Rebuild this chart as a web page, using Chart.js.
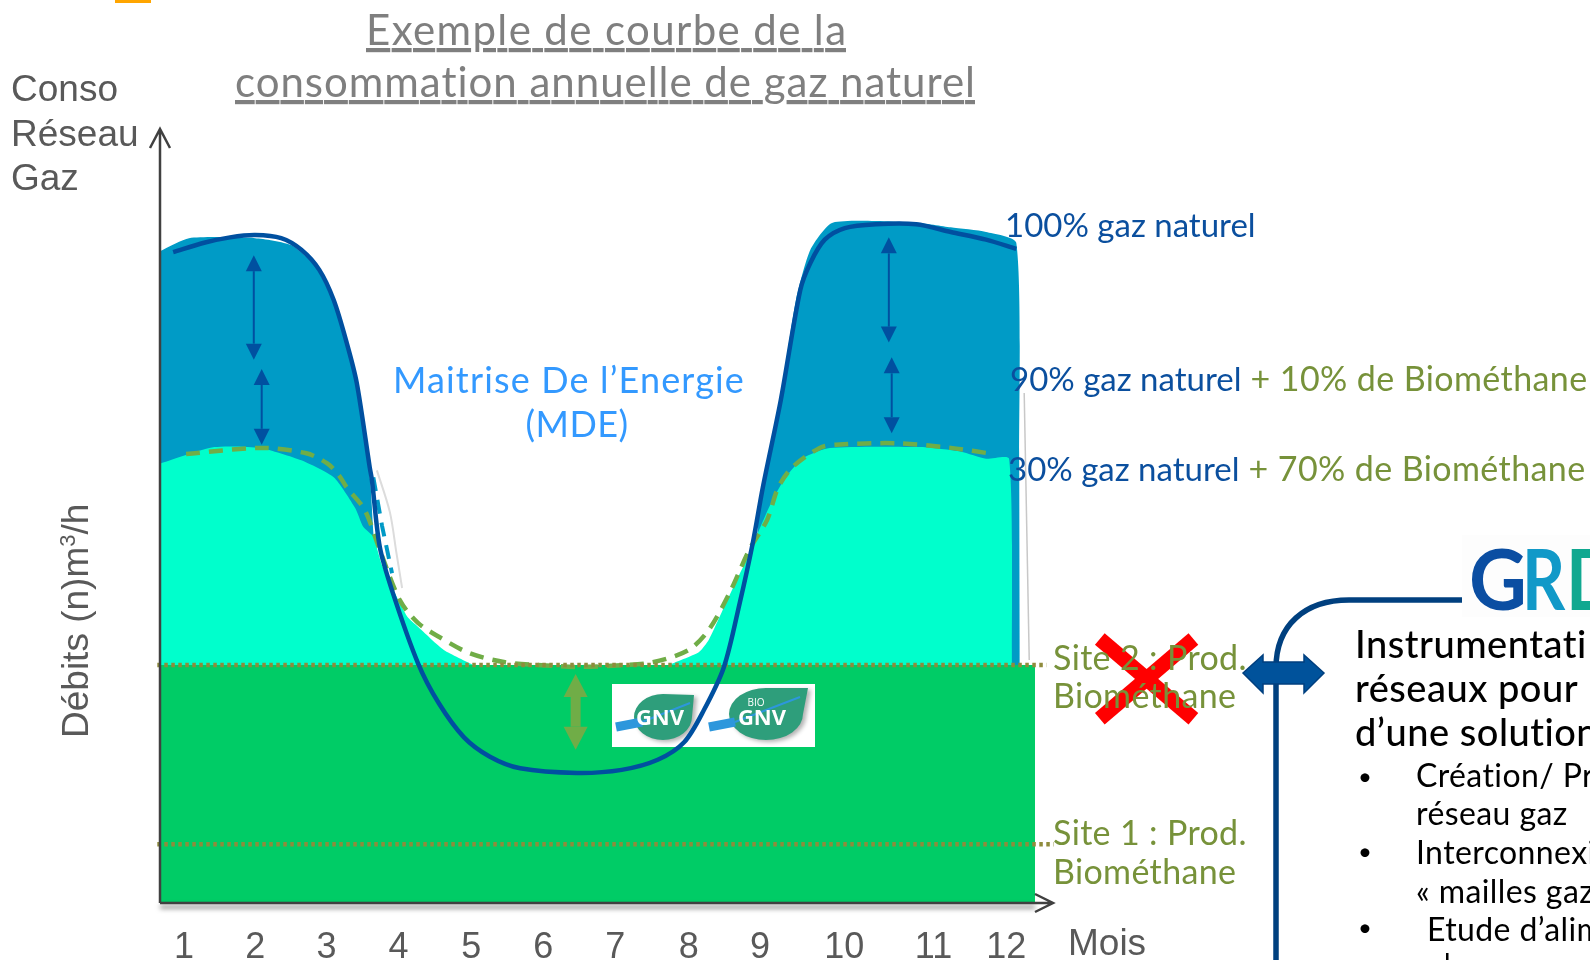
<!DOCTYPE html>
<html lang="fr">
<head>
<meta charset="utf-8">
<title>Courbe de consommation de gaz naturel</title>
<script src="https://cdn.jsdelivr.net/npm/chart.js@4"></script>
<style>
    html, body { margin: 0; padding: 0; background: #fff; width: 1590px; height: 960px; overflow: hidden; }
    #wrap { position: relative; width: 1590px; height: 960px; overflow: hidden; }
    #chart, #overlay { position: absolute; left: 0; top: 0; }
    #overlay { font-variant-ligatures: none; }
    .lato { font-family: Lato, "Open Sans", sans-serif; }
    .arial { font-family: "Liberation Sans", Arial, sans-serif; fill: #595959; font-size: 37px; }
    .blue { fill: #0b4f9e; font-size: 33px; }
    .olive { fill: #77923a; font-size: 34px; letter-spacing: 0.4px; }
    .site { fill: #77923a; font-size: 34px; letter-spacing: 0.35px; }
    .panel { fill: #000; font-size: 32px; letter-spacing: 0.4px; }
    .bullet { fill: #000; font-size: 24px; }
    .panelHead { fill: #000; font-size: 38px; font-weight: 500; letter-spacing: 0.5px; }
</style>
</head>
<body>
<div id="wrap">
    <canvas id="chart" width="1590" height="960"></canvas>
    <svg id="overlay" width="1590" height="960" xmlns="http://www.w3.org/2000/svg">
        <rect x="115" y="0" width="36" height="3" fill="#ffa500"/>

        <g class="lato" font-size="42" fill="#7f7f7f" text-decoration="underline">
            <text x="366" y="45" textLength="480">Exemple de courbe de la</text>
            <text x="235" y="97" textLength="740">consommation annuelle de gaz naturel</text>
        </g>

        <g class="arial">
            <text x="11" y="101">Conso</text>
            <text x="11" y="146">Réseau</text>
            <text x="11" y="190">Gaz</text>
            <text x="1068" y="955">Mois</text>
            <text transform="translate(88,738) rotate(-90)">Débits (n)m<tspan font-size="22" dy="-13">3</tspan><tspan dy="13">/h</tspan></text>
        </g>

        <g class="lato">
            <text class="blue" x="1005" y="237">100% gaz naturel</text>
            <text x="1010" y="391"><tspan class="blue">90% gaz naturel</tspan><tspan class="olive"> + 10% de Biométhane</tspan></text>
            <text x="1008" y="481"><tspan class="blue">30% gaz naturel</tspan><tspan class="olive"> + 70% de Biométhane</tspan></text>
            <text class="site" x="1053" y="670">Site 2 : Prod.</text>
            <text class="site" x="1053" y="708">Biométhane</text>
            <text class="site" x="1053" y="845">Site 1 : Prod.</text>
            <text class="site" x="1053" y="884">Biométhane</text>
        </g>

        <g class="lato" font-size="36" fill="#3399ff">
            <text x="569" y="393" text-anchor="middle" letter-spacing="1.15">Maitrise De l’Energie</text>
            <text x="577" y="437" text-anchor="middle" letter-spacing="0.4">(MDE)</text>
        </g>

        <!-- bloc de droite -->
        <path d="M1462 600 H1349 C1305 600 1276 625 1276 668 V960" fill="none" stroke="#00407f" stroke-width="5.5"/>
        <polygon points="1243,673 1263,655 1263,662 1304,662 1304,655 1324,673 1304,693 1304,684 1263,684 1263,693" fill="#00529b" stroke="#003f7f" stroke-width="1.5"/>
        <rect x="1462" y="535" width="128" height="82" fill="#fdfdfd"/>
        <g class="lato" font-size="84" font-weight="700">
            <text transform="translate(1469,610) scale(0.95,1)" fill="#0b4ea2">G</text>
            <text transform="translate(1522,610) scale(0.8,1)" fill="#1199c8">R</text>
            <text transform="translate(1566,610) scale(0.85,1)" fill="#10a890">D</text>
        </g>
        <g class="lato">
            <text class="panelHead" x="1355" y="658">Instrumentati</text>
            <text class="panelHead" x="1355" y="702">réseaux pour</text>
            <text class="panelHead" x="1355" y="746">d’une solution</text>
            <text class="bullet" x="1358" y="785">•</text>
            <text class="panel" x="1416" y="787">Création/ Pr</text>
            <text class="panel" x="1416" y="825">réseau gaz</text>
            <text class="bullet" x="1358" y="860">•</text>
            <text class="panel" x="1416" y="864" letter-spacing="0">Interconnexi</text>
            <text class="panel" x="1416" y="903">« mailles gaz</text>
            <text class="bullet" x="1358" y="936">•</text>
            <text class="panel" x="1427" y="941">Etude d’alim</text>
        </g>
        <rect x="1446" y="953" width="2.5" height="7" fill="#000"/>
    </svg>
</div>

<script>
    // Graduations (positions en "mois", espacement irregulier a la fin)
    const monthTicks = [1.02, 2.01, 3.0, 4.0, 5.01, 6.01, 7.01, 8.03, 9.02, 10.19, 11.43, 12.44];
    const monthLabels = ['1', '2', '3', '4', '5', '6', '7', '8', '9', '10', '11', '12'];

    // Courbe 100% gaz naturel
    const gasMonths = [0.87, 1.30, 1.66, 2.01, 2.37, 2.65, 2.90, 3.10, 3.28, 3.42, 3.60, 3.63, 3.74, 3.92, 4.27, 4.56, 4.91, 5.27, 5.69, 6.48, 7.10, 7.60, 7.97, 8.24, 8.52, 8.74, 8.92, 9.06, 9.31, 9.58, 9.72, 9.92, 10.20, 10.63, 11.19, 11.67, 12.16, 12.58];
    const gasValues = [84.1, 85.3, 86.0, 86.3, 85.9, 84.4, 81.8, 77.9, 72.4, 67.2, 56.3, 54.7, 46.0, 40.1, 31.0, 25.8, 21.4, 18.9, 17.4, 16.8, 17.2, 18.5, 20.8, 24.9, 30.5, 38.8, 46.5, 53.7, 65.0, 79.2, 82.7, 85.7, 87.2, 87.7, 87.7, 86.7, 85.7, 84.5];

    // Zone bleue (90% gaz naturel)
    const blueMonths = [0.66, 1.09, 2.01, 2.51, 2.85, 3.15, 3.42, 3.53, 3.61, 3.66, 3.81, 3.88, 8.81, 8.99, 9.09, 9.31, 9.52, 9.72, 10.03, 11.19, 11.67, 12.16, 12.58, 12.62, 12.63];
    const blueValues = [84.1, 85.9, 85.9, 85.0, 82.2, 76.6, 68.0, 60.7, 54.3, 46.9, 36.6, 30.1, 30.1, 48.8, 54.7, 65.6, 77.9, 84.4, 87.9, 87.9, 87.3, 86.7, 85.3, 57.2, 30.1];

    // Zone turquoise (30% gaz naturel)
    const tealMonths = [0.70, 1.44, 2.08, 2.65, 3.10, 3.40, 3.51, 3.65, 3.78, 4.12, 4.27, 4.63, 5.05, 5.13, 7.63, 7.74, 8.17, 8.31, 8.52, 8.65, 8.85, 8.99, 9.16, 9.37, 9.62, 9.99, 11.26, 11.81, 12.16, 12.48, 12.52];
    const tealValues = [56.8, 58.9, 58.8, 57.2, 55.0, 51.0, 48.6, 47.3, 43.4, 37.0, 35.7, 32.7, 30.7, 30.1, 30.1, 30.7, 32.4, 34.0, 38.2, 40.8, 44.7, 47.8, 51.4, 54.9, 57.5, 58.8, 58.9, 58.3, 57.4, 57.4, 30.1];

    // Zone verte (production des sites 1 et 2)
    const greenMonths = [0.63, 0.69, 0.69, 12.84, 12.84];
    const greenValues = [7.6, 7.6, 30.75, 30.75, 0];

    // Courbe pointillee verte (biomethane)
    const bioMonths = [1.05, 2.08, 2.72, 3.01, 3.17, 3.28, 3.53, 3.74, 4.02, 4.27, 4.56, 4.98, 5.48, 6.05, 6.48, 7.03, 7.53, 8.03, 8.31, 8.60, 8.87, 9.12, 9.27, 9.47, 9.85, 10.07, 10.91, 11.67, 12.27];
    const bioValues = [58.0, 58.8, 58.1, 56.8, 55.3, 53.7, 50.8, 45.6, 39.1, 36.2, 34.4, 32.3, 31.1, 30.7, 30.5, 30.7, 31.1, 32.7, 35.3, 40.1, 45.6, 49.5, 53.6, 56.3, 58.8, 59.2, 59.4, 58.8, 58.0];

    // Petit tronçon pointille bleu et bords gris de l'ombre
    const dashMonths = [3.65, 3.77, 3.91];
    const dashValues = [55.0, 48.8, 42.6];
    const shadeLeftMonths = [3.70, 3.88, 3.97, 4.05];
    const shadeLeftValues = [55.9, 50.5, 45.3, 40.7];
    const shadeRightMonths = [12.69, 12.76];
    const shadeRightValues = [65.9, 31.4];

    // Niveaux de production (lignes en pointilles)
    const site2Months = [0.65, 13.0];
    const site2Values = [30.75, 30.75];
    const site1Months = [0.65, 13.1];
    const site1Values = [7.6, 7.6];

    // Croix rouge sur le site 2
    const crossAMonths = [13.74, 15.04];
    const crossAValues = [34.1, 23.8];
    const crossBMonths = [15.04, 13.74];
    const crossBValues = [34.1, 23.8];

    // Doubles fleches : bleues dans les humps, verte au centre
    const arrowMonths = [1.99, 2.10, 10.81, 10.85, 6.46];
    const arrowLows = [70.2, 59.2, 72.4, 60.7, 19.8];
    const arrowHighs = [83.7, 69.0, 86.0, 70.5, 29.6];

    const BLUE_LINE = '#0050a0';
    const GREEN_DASH = '#70ad47';
    const DOTS = '#8f8b3c';

    function points(xs, ys) {
        return xs.map((x, i) => ({ x: x, y: ys[i] }));
    }

    function lineSet(xs, ys, color, width, extra) {
        return Object.assign({
            data: points(xs, ys),
            showLine: true,
            borderColor: color,
            borderWidth: width,
            pointRadius: 0,
            tension: 0,
            fill: false,
            clip: false
        }, extra);
    }

    function areaSet(xs, ys, color, order, tension) {
        return lineSet(xs, ys, color, 0, { backgroundColor: color, fill: 'origin', order: order, tension: tension });
    }

    function triangle(ctx, x, y, half, len, dir) {
        ctx.beginPath();
        ctx.moveTo(x, y);
        ctx.lineTo(x - half, y + dir * len);
        ctx.lineTo(x + half, y + dir * len);
        ctx.closePath();
        ctx.fill();
    }

    function leaf(ctx, cx, cy, rx, ry, tipX, tipY) {
        ctx.beginPath();
        ctx.ellipse(cx, cy, rx, ry, 0, 0, Math.PI * 2);
        ctx.moveTo(cx, cy - ry);
        ctx.lineTo(tipX, tipY);
        ctx.lineTo(cx + rx, cy);
        ctx.closePath();
        ctx.fill();
    }

    function road(ctx, x0, y0, x1, y1) {
        ctx.strokeStyle = '#2d97dc';
        ctx.lineCap = 'butt';
        ctx.lineWidth = 9;
        ctx.beginPath();
        ctx.moveTo(x0, y0);
        ctx.lineTo(x0 + 26, y0 - 5);
        ctx.stroke();
        ctx.lineWidth = 2;
        ctx.beginPath();
        ctx.moveTo(x0 + 26, y0 - 5);
        ctx.lineTo(x1, y1);
        ctx.stroke();
    }

    function drawLogos(ctx) {
        ctx.save();
        ctx.fillStyle = '#fff';
        ctx.fillRect(612, 684, 203, 63);

        ctx.save();
        ctx.fillStyle = '#2e9e7b';
        ctx.shadowColor = 'rgba(0,0,0,0.3)';
        ctx.shadowBlur = 4;
        ctx.shadowOffsetX = 3;
        ctx.shadowOffsetY = 2;
        leaf(ctx, 663, 717, 29, 23, 694, 695);
        leaf(ctx, 766, 714, 37, 26, 808, 688);
        ctx.restore();
        road(ctx, 616, 727, 690, 703);
        road(ctx, 709, 727, 800, 697);

        ctx.fillStyle = '#fff';
        ctx.textAlign = 'center';
        ctx.textBaseline = 'alphabetic';
        ctx.font = 'bold 22px "Open Sans", sans-serif';
        ctx.fillText('GNV', 660, 725);
        ctx.fillText('GNV', 762, 725);
        ctx.font = '10px "Open Sans", sans-serif';
        ctx.fillText('BIO', 756, 706);
        ctx.restore();
    }

    const decorations = {
        id: 'decorations',
        afterDatasetDraw(chart, args) {
            // les logos passent sous la courbe bleue mais sur la zone verte
            if (args.index === greenIndex) {
                drawLogos(chart.ctx);
            }
        },
        afterDatasetsDraw(chart) {
            const ctx = chart.ctx;
            const x = chart.scales.x;
            const y = chart.scales.y;

            // doubles fleches
            arrowMonths.forEach((m, i) => {
                const px = x.getPixelForValue(m);
                const top = y.getPixelForValue(arrowHighs[i]);
                const bottom = y.getPixelForValue(arrowLows[i]);
                const isGreen = i === arrowMonths.length - 1;
                const half = isGreen ? 12 : 8;
                const len = isGreen ? 23 : 16;
                ctx.save();
                ctx.strokeStyle = isGreen ? GREEN_DASH : BLUE_LINE;
                ctx.fillStyle = ctx.strokeStyle;
                ctx.lineWidth = isGreen ? 10 : 2;
                ctx.beginPath();
                ctx.moveTo(px, top + len);
                ctx.lineTo(px, bottom - len);
                ctx.stroke();
                triangle(ctx, px, top, half, len, 1);
                triangle(ctx, px, bottom, half, len, -1);
                ctx.restore();
            });

            // axes avec fleches ouvertes
            const left = x.left;
            const right = x.right;
            const base = y.bottom;
            const tip = y.top;
            ctx.save();
            ctx.strokeStyle = '#404040';
            ctx.lineWidth = 2.5;
            ctx.shadowColor = 'rgba(0,0,0,0.6)';
            ctx.shadowBlur = 5;
            ctx.shadowOffsetY = 4;
            ctx.beginPath();
            ctx.moveTo(left, base);
            ctx.lineTo(right - 18, base);
            ctx.stroke();
            ctx.shadowColor = 'transparent';
            ctx.beginPath();
            ctx.moveTo(left, base);
            ctx.lineTo(left, tip);
            ctx.moveTo(left - 10, tip + 19);
            ctx.lineTo(left, tip);
            ctx.lineTo(left + 10, tip + 19);
            ctx.moveTo(right - 18, base - 9);
            ctx.lineTo(right, base);
            ctx.lineTo(right - 18, base + 9);
            ctx.moveTo(right - 18, base);
            ctx.lineTo(right, base);
            ctx.stroke();
            ctx.restore();
        }
    };

    const datasets = [
        lineSet(gasMonths, gasValues, BLUE_LINE, 4.5, { tension: 0.3, order: 1 }),
        lineSet(crossAMonths, crossAValues, '#ff0000', 15, { order: 2 }),
        lineSet(crossBMonths, crossBValues, '#ff0000', 15, { order: 2 }),
        lineSet(site2Months, site2Values, DOTS, 4.5, { borderDash: [3.5, 3.5], order: 3 }),
        lineSet(site1Months, site1Values, DOTS, 4.5, { borderDash: [3.5, 3.5], order: 3 }),
        lineSet(bioMonths, bioValues, GREEN_DASH, 4.5, { borderDash: [14, 9], tension: 0.3, order: 4 }),
        areaSet(greenMonths, greenValues, '#00cc66', 5, 0),
        lineSet(dashMonths, dashValues, '#0099c6', 4, { borderDash: [14, 9], order: 6 }),
        areaSet(tealMonths, tealValues, '#00ffcc', 7, 0.2),
        areaSet(blueMonths, blueValues, '#009bc6', 8, 0.2),
        lineSet(shadeLeftMonths, shadeLeftValues, '#dcdcdc', 2, { tension: 0.3, order: 9 }),
        lineSet(shadeRightMonths, shadeRightValues, '#c8c8c8', 1.5, { order: 9 })
    ];
    const greenIndex = 6;

    new Chart(document.getElementById('chart'), {
        type: 'scatter',
        data: { datasets: datasets },
        options: {
            responsive: false,
            animation: false,
            layout: { padding: { left: 160, right: 537, top: 129, bottom: 0 } },
            plugins: {
                legend: { display: false },
                tooltip: { enabled: false }
            },
            scales: {
                x: {
                    type: 'linear',
                    min: 0.6875,
                    max: 13.09,
                    grid: { display: false, drawTicks: false },
                    border: { display: false },
                    afterBuildTicks(axis) {
                        axis.ticks = monthTicks.map(v => ({ value: v }));
                    },
                    afterFit(axis) {
                        axis.height = 57;
                    },
                    ticks: {
                        autoSkip: false,
                        maxRotation: 0,
                        padding: 23,
                        color: '#595959',
                        font: { family: '"Liberation Sans", Arial, sans-serif', size: 36 },
                        callback(value, index) {
                            return monthLabels[index];
                        }
                    }
                },
                y: {
                    type: 'linear',
                    min: 0,
                    max: 100,
                    display: false
                }
            }
        },
        plugins: [decorations]
    });
</script>
</body>
</html>
